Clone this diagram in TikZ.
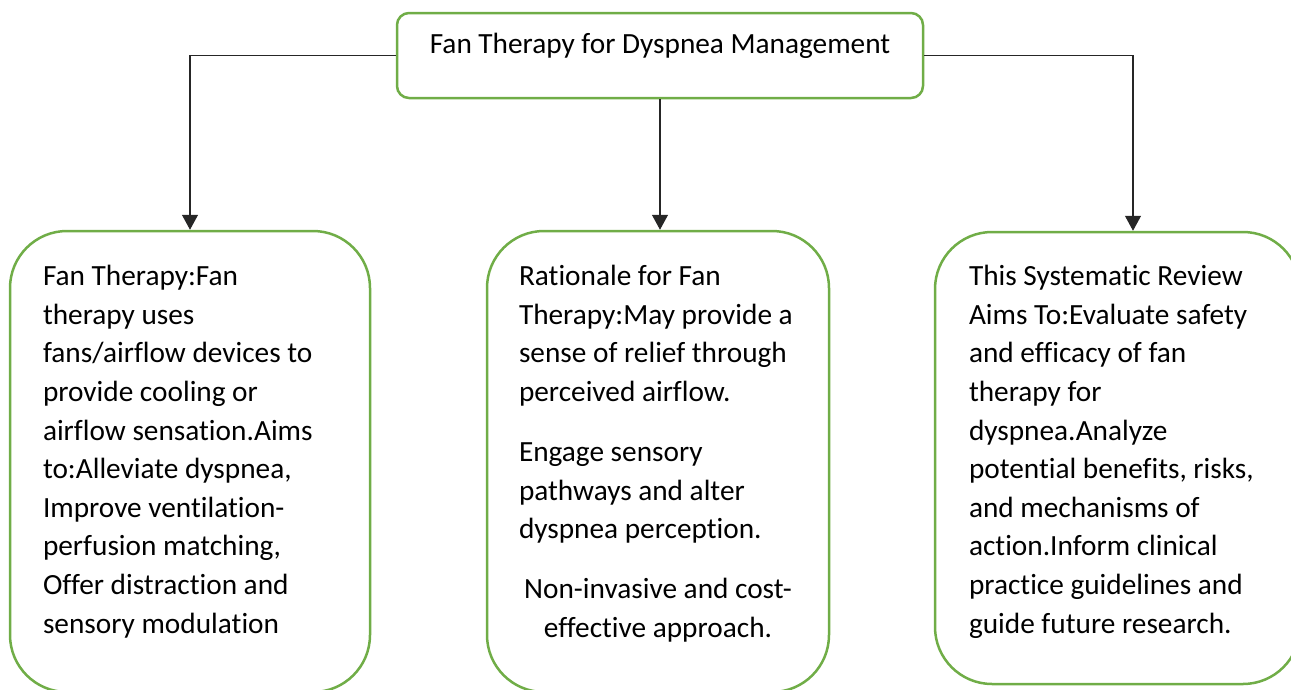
\documentclass[tikz,border=0pt]{standalone}
\usepackage{fontspec}
\setmainfont{Carlito}[Ligatures=NoCommon]
\usetikzlibrary{arrows.meta}

\definecolor{boxgreen}{HTML}{70AD47}

% text block of a box: height, width, first baseline, contents
\newcommand{\boxtext}[4]{\parbox[c][#1][t]{#2}{\raggedright\rule{0pt}{#3}\ignorespaces#4}}

\begin{document}
\begin{tikzpicture}[x=1pt, y=-1pt, >={Triangle[width=16pt,length=15pt]},
    box/.style={draw=boxgreen, line width=2.5pt, inner sep=0pt,
                font=\fontsize{29.3pt}{38.6pt}\selectfont},
    link/.style={->, line width=1.3pt, draw=black!85}]

    % Page size (the right box runs off the page)
    \useasboundingbox (0,0) rectangle (1291,689);
    \clip (0,0) rectangle (1291,689);

    % Parameters for the lower boxes
    \def\boxh{461pt}
    \def\firstline{54.7pt}

    % Title box
    \node[box, rounded corners=12pt, minimum width=526pt] (top) at (660,55.5)
        {\boxtext{85pt}{526pt}{40.4pt}{\centering Fan Therapy for Dyspnea Management}};

    % Three boxes below
    \node[box, rounded corners=57pt, minimum width=360pt] (fanbox) at (190,461.5)
        {\boxtext{\boxh}{294pt}{\firstline}{Fan Therapy:Fan\\ therapy uses\\ fans/airflow devices to\\
         provide cooling or\\ airflow sensation.Aims\\ to:Alleviate dyspnea,\\ Improve ventilation-\\
         perfusion matching,\\ Offer distraction and\\ sensory modulation}};

    \node[box, rounded corners=57pt, minimum width=342pt] (ratbox) at (658,461.5)
        {\boxtext{\boxh}{278pt}{\firstline}{Rationale for Fan\\ Therapy:May provide a\\
         sense of relief through\\ perceived airflow.\par\vspace{21.4pt}
         Engage sensory\\ pathways and alter\\ dyspnea perception.\par\vspace{21.4pt}
         {\centering Non-invasive and cost-\\ effective approach.\par}}};

    \node[box, rounded corners=57pt, minimum width=365pt] (revbox) at (1117.5,458)
        {\boxtext{452pt}{297pt}{53.7pt}{This Systematic Review\\ Aims To:Evaluate safety\\
         and efficacy of fan\\ therapy for\\ dyspnea.Analyze\\ potential benefits, risks,\\
         and mechanisms of\\ action.Inform clinical\\ practice guidelines and\\ guide future research.}};

    % Connectors from the title
    \draw[link] (top.west) -| (fanbox.north);
    \draw[link] (top.south) -- (top.south |- ratbox.north);
    \draw[link] (top.east) -| ([xshift=15.5pt]revbox.north);

\end{tikzpicture}
\end{document}
